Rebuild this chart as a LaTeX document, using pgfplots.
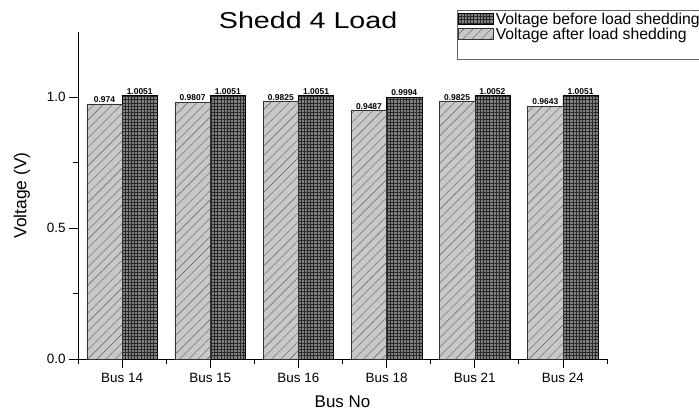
\documentclass[border=0pt]{standalone}
\usepackage{pgfplots}
\pgfplotsset{compat=1.18}
\usepackage{pgfplotstable}
\usetikzlibrary{patterns.meta}
\usepackage{fontspec}
\setmainfont{Liberation Sans}
\definecolor{afterfill}{RGB}{200,200,200}
\definecolor{beforefill}{RGB}{130,130,130}
\pgfplotstableread{
x y label
0 0.974 0.974
1 0.9807 0.9807
2 0.9825 0.9825
3 0.9487 0.9487
4 0.9825 0.9825
5 0.9643 0.9643
}\after
\pgfplotstableread{
x y label
0 1.0051 1.0051
1 1.0051 1.0051
2 1.0051 1.0051
3 0.9994 0.9994
4 1.0052 1.0052
5 1.0051 1.0051
}\before
\begin{document}
\begin{tikzpicture}[x=1bp,y=1bp]
\useasboundingbox (0,0) rectangle (699,410);
\begin{axis}[
  at={(78bp,51bp)}, anchor=south west,
  scale only axis, width=529bp, height=327bp,
  xmin=-0.5, xmax=5.5, ymin=0, ymax=1.248,
  axis x line=bottom, axis y line=left,
  axis line style={-, line width=0.9pt},
  xtick={0,1,2,3,4,5},
  xticklabels={Bus 14,Bus 15,Bus 16,Bus 18,Bus 21,Bus 24},
  minor xtick={-0.5,0.5,1.5,2.5,3.5,4.5,5.5},
  ytick={0,0.5,1.0},
  minor ytick={0.25,0.75},
  tick align=outside,
  major tick length=9bp, minor tick length=5bp,
  tick style={line width=0.8pt, black},
  yticklabel style={/pgf/number format/fixed, /pgf/number format/precision=1, /pgf/number format/fixed zerofill},
  /pgf/number format/assume math mode=true,
  ticklabel style={font=\fontsize{13.5}{15}\selectfont},
  xticklabel style={yshift=-2bp},
  xlabel={Bus No}, ylabel={Voltage (V)},
  label style={font=\fontsize{17}{19}\selectfont},
  xlabel style={yshift=-6bp},
  ylabel style={yshift=10bp, font=\fontsize{17.5}{19}\selectfont},
  ybar, bar width=0.4,
  nodes near coords={\pgfplotspointmeta},
  point meta=explicit symbolic,
  every node near coord/.append style={font=\fontsize{8.5}{9}\selectfont\bfseries, inner sep=1bp, black},
  legend style={at={(0.7165,1.067)}, anchor=north west, draw=black!60, line width=0.5pt,
    font=\fontsize{15.8}{17}\selectfont, inner xsep=1bp, inner ysep=0.5bp, row sep=-1.5bp,
    /tikz/every even column/.append style={column sep=0bp}},
  legend image code/.code={\draw[#1] (0bp,-5bp) rectangle (35bp,6bp);},
  legend cell align=left,
  clip=false,
]
\addplot[bar shift=0.2, draw=black, line width=0.5pt, fill=beforefill,
  postaction={pattern={Hatch[angle=0,distance=3.2bp,line width=0.45pt]}, pattern color=black!85}]
  table[x=x, y=y, meta=label] {\before};
\addlegendentry{Voltage before load shedding}
\addplot[bar shift=-0.2, draw=black!80, line width=0.5pt, fill=afterfill,
  postaction={pattern={Lines[angle=45,distance=6.5bp,line width=0.4pt]}, pattern color=black!65}]
  table[x=x, y=y, meta=label] {\after};
\addlegendentry{Voltage after load shedding}
\addlegendimage{empty legend}
\addlegendentry{\rule{0pt}{12bp}}
\node[font=\fontsize{23}{26}\selectfont, xscale=1.25] at (rel axis cs:0.435,1.035) {Shedd 4 Load};
\end{axis}
\end{tikzpicture}
\end{document}
